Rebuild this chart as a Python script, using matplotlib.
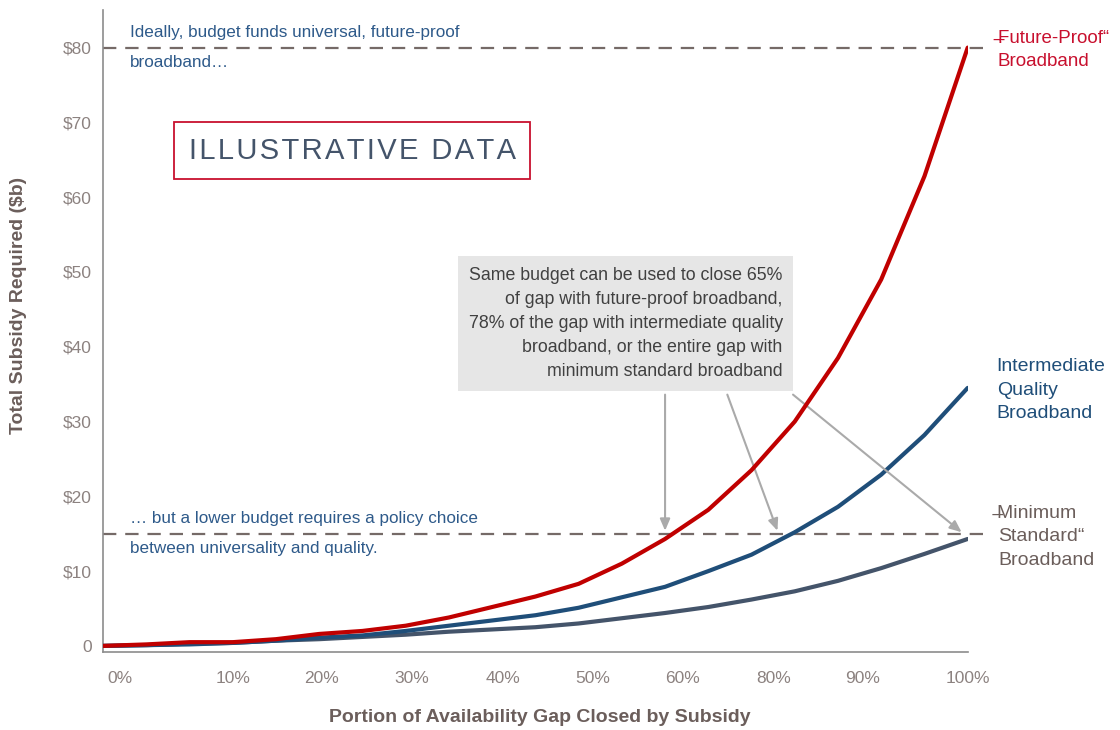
import matplotlib.pyplot as plt
import matplotlib as mpl

mpl.rcParams['font.family'] = ['Liberation Sans', 'DejaVu Sans']

# share of availability gap closed (%), 5% steps
gap_pct = [0, 5, 10, 15, 20, 25, 30, 35, 40, 45, 50,
           55, 60, 65, 70, 75, 80, 85, 90, 95, 100]

# total subsidy required ($b)
future_proof = [0, 0.2, 0.5, 0.5, 0.9, 1.6, 2.0, 2.7, 3.8, 5.2, 6.6,
                8.3, 11.0, 14.3, 18.2, 23.5, 30.0, 38.5, 49.0, 62.8, 80.0]
intermediate = [0, 0.1, 0.2, 0.4, 0.7, 1.1, 1.4, 2.0, 2.7, 3.4, 4.1,
                5.1, 6.5, 7.9, 10.0, 12.2, 15.2, 18.6, 22.9, 28.2, 34.5]
minimum = [0, 0.1, 0.3, 0.4, 0.7, 0.9, 1.2, 1.5, 1.9, 2.2, 2.5,
           3.0, 3.7, 4.4, 5.2, 6.2, 7.3, 8.7, 10.4, 12.3, 14.3]

# tick labels as printed on the original (70% is missing there)
xtick_pos = [2, 15, 25.3, 35.7, 46.2, 56.6, 67, 77.5, 87.9, 100]
xtick_labels = ['0%', '10%', '20%', '30%', '40%', '50%', '60%', '80%', '90%', '100%']
ytick_pos = [0, 10, 20, 30, 40, 50, 60, 70, 80]
ytick_labels = ['0', '$10', '$20', '$30', '$40', '$50', '$60', '$70', '$80']

budget_high = 80
budget_low = 14.9

RED = '#C00000'
BLUE = '#1F4E79'
SLATE = '#44546A'
BROWN = '#6B5E5B'
TICK = '#8C8280'
TXT_BLUE = '#2E5A8A'

fig = plt.figure(figsize=(11.2, 7.3), dpi=100)
ax = fig.add_axes([0.092, 0.107, 0.772, 0.879])

ax.plot(gap_pct, minimum, color=SLATE, lw=3, solid_capstyle='round', zorder=3)
ax.plot(gap_pct, intermediate, color=BLUE, lw=3, solid_capstyle='round', zorder=3)
ax.plot(gap_pct, future_proof, color=RED, lw=3, solid_capstyle='round', zorder=4)

for b in (budget_high, budget_low):
    ax.axhline(b, xmin=0, xmax=1.02, color='#756A67', lw=1.6, ls=(0, (6, 4)),
               clip_on=False, zorder=2)

ax.set_xlim(0, 100)
ax.set_ylim(-0.8, 85)
ax.set_xticks(xtick_pos)
ax.set_xticklabels(xtick_labels)
ax.set_yticks(ytick_pos)
ax.set_yticklabels(ytick_labels)
ax.tick_params(length=0, colors=TICK, labelsize=12.5)
ax.tick_params(axis='x', pad=14)
ax.tick_params(axis='y', pad=8)
for s in ['top', 'right']:
    ax.spines[s].set_visible(False)
for s in ['left', 'bottom']:
    ax.spines[s].set_color('#8C8C8C')
    ax.spines[s].set_linewidth(1.2)

ax.set_xlabel('Portion of Availability Gap Closed by Subsidy', fontsize=14,
              fontweight='bold', color=BROWN, va='center')
ax.set_ylabel('Total Subsidy Required ($b)', fontsize=14, fontweight='bold',
              color=BROWN, va='center')
ax.xaxis.set_label_coords(0.505, -0.103)
ax.yaxis.set_label_coords(-0.098, 0.54)

# left-hand commentary
ax.text(3.1, 82.0, 'Ideally, budget funds universal, future-proof', color=TXT_BLUE,
        fontsize=12.3, va='center')
ax.text(3.1, 78.0, 'broadband\u2026', color=TXT_BLUE, fontsize=12.3, va='center')
ax.text(3.1, 17.0, '\u2026 but a lower budget requires a policy choice', color=TXT_BLUE,
        fontsize=12.3, va='center')
ax.text(3.1, 13.0, 'between universality and quality.', color=TXT_BLUE,
        fontsize=12.3, va='center')

ax.text(28.8, 66.2, '\u200a'.join('ILLUSTRATIVE DATA'), color=SLATE, fontsize=21,
        ha='center', va='center',
        bbox=dict(boxstyle='square,pad=0.5', fc='white', ec='#C8102E', lw=1.3))

# callout box
ax.text(78.6, 43.1,
        'Same budget can be used to close 65%\n'
        'of gap with future-proof broadband,\n'
        '78% of the gap with intermediate quality\n'
        'broadband, or the entire gap with\n'
        'minimum standard broadband',
        color='#404040', fontsize=12.8, ha='right', va='center', linespacing=1.55,
        bbox=dict(boxstyle='square,pad=0.6', fc='#E6E6E6', ec='none'), zorder=5)

arrow_kw = dict(arrowstyle='-|>,head_length=0.7,head_width=0.3', color='#AAAAAA',
                lw=1.5, shrinkA=0, shrinkB=0)
ax.annotate('', xy=(65, 15.4), xytext=(65, 33.6), arrowprops=arrow_kw)
ax.annotate('', xy=(78, 15.4), xytext=(72.2, 33.6), arrowprops=arrow_kw)
ax.annotate('', xy=(99.3, 15.2), xytext=(79.8, 33.6), arrowprops=arrow_kw)

# series labels at right (stray stroke over the first letter, as on the original)
ax.text(103.5, 79.7, '\u0336Future-Proof\u201c\nBroadband', color='#C8102E',
        fontsize=13.5, va='center', linespacing=1.5, clip_on=False)
ax.text(103.35, 34.2, 'Intermediate\nQuality\nBroadband', color=BLUE,
        fontsize=14, va='center', linespacing=1.5, clip_on=False)
ax.text(103.5, 14.6, '\u0336Minimum\nStandard\u201c\nBroadband', color=BROWN,
        fontsize=14, va='center', linespacing=1.5, clip_on=False)

fig.savefig('out.png', dpi=100)
